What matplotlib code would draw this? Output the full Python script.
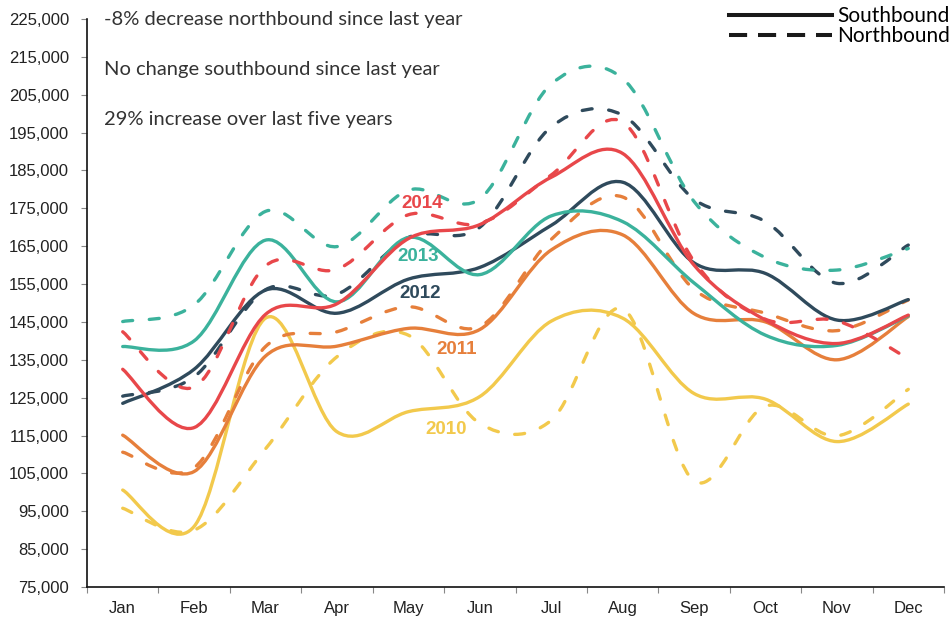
import matplotlib
matplotlib.use("Agg")
import matplotlib.pyplot as plt
from matplotlib.path import Path
from matplotlib.patches import PathPatch
from matplotlib.lines import Line2D
import numpy as np

months = ["Jan", "Feb", "Mar", "Apr", "May", "Jun", "Jul", "Aug", "Sep", "Oct", "Nov", "Dec"]
years = ["2010", "2011", "2012", "2013", "2014"]

south_2010 = [100600, 91000, 146000, 116000, 121300, 125300, 145200, 146000, 126100, 124600, 113400, 123300]
north_2010 = [95800, 90000, 111500, 135800, 141500, 118200, 119000, 148500, 103000, 122800, 114900, 127200]
south_2011 = [115100, 105500, 136000, 138600, 143300, 143000, 164000, 168000, 147200, 145000, 135000, 146400]
north_2011 = [110600, 106500, 138500, 142400, 149000, 143800, 166800, 178000, 153600, 147300, 142700, 150800]
south_2012 = [123500, 132500, 153400, 147300, 156300, 159400, 170500, 181900, 160600, 157800, 145500, 150900]
north_2012 = [125400, 130500, 153500, 152300, 167300, 170000, 196500, 199600, 177400, 171500, 155200, 165300]
south_2013 = [138500, 140000, 166600, 150300, 167300, 157500, 173000, 171500, 155300, 141500, 138800, 146600]
north_2013 = [145100, 149500, 174200, 164900, 179800, 177500, 207800, 209300, 176800, 162000, 158700, 164400]
south_2014 = [132500, 117100, 147000, 149800, 167000, 170700, 183200, 189500, 160000, 145500, 139300, 146800]
north_2014 = [142400, 127800, 159800, 158900, 173300, 171000, 183800, 197800, 161000, 145700, 145300, 135300]

notes = ["-8% decrease northbound since last year",
         "No change southbound since last year",
         "29% increase over last five years"]

colors = {"2010": "#F2C94C", "2011": "#E67F3B", "2012": "#2F4A5C",
          "2013": "#3BB29C", "2014": "#E8474A"}
label_pos = {"2014": (4.19, 176400), "2013": (4.14, 162400), "2012": (4.16, 152600),
             "2011": (4.68, 137800), "2010": (4.53, 116700)}

series = [("2010", south_2010, north_2010), ("2011", south_2011, north_2011),
          ("2012", south_2012, north_2012), ("2013", south_2013, north_2013),
          ("2014", south_2014, north_2014)]


def smooth_path(xs, ys):
    pts = np.column_stack([xs, ys]).astype(float)
    n = len(pts)
    verts = [pts[0]]
    codes = [Path.MOVETO]
    for i in range(n - 1):
        p0 = pts[max(i - 1, 0)]
        p1 = pts[i]
        p2 = pts[i + 1]
        p3 = pts[min(i + 2, n - 1)]
        c1 = p1 + (p2 - p0) / 6.0
        c2 = p2 - (p3 - p1) / 6.0
        verts += [c1, c2, p2]
        codes += [Path.CURVE4] * 3
    return Path(verts, codes)


fig = plt.figure(figsize=(9.51, 6.19), dpi=100)
W, H = 951, 619
ax = fig.add_axes([87 / W, (H - 587) / H, (944 - 87) / W, (587 - 19) / H])

x = np.arange(len(months))
lw = 2.4
for yr, s, nb in series:
    c = colors[yr]
    ax.add_patch(PathPatch(smooth_path(x, nb), fill=False, edgecolor=c, lw=lw,
                           linestyle=(0, (3.0, 5.0)), capstyle="round"))
    ax.add_patch(PathPatch(smooth_path(x, s), fill=False, edgecolor=c, lw=lw,
                           capstyle="round"))
    lx, ly = label_pos[yr]
    ax.text(lx, ly, yr, color=c, fontsize=13.5, fontweight="bold",
            family="Liberation Sans", ha="center", va="center")

ax.set_xlim(-0.5, len(months) - 0.5)
ax.set_ylim(75000, 225000)
ax.set_yticks(np.arange(75000, 225001, 10000))
ax.set_yticklabels([f"{v:,}" for v in range(75000, 225001, 10000)])
ax.set_xticks(np.arange(-0.5, len(months), 1.0))
ax.set_xticklabels([])
ax.set_xticks(x, minor=True)
ax.set_xticklabels(months, minor=True)
ax.tick_params(axis="x", which="major", length=4, width=0.8, color="#888888")
ax.tick_params(axis="x", which="minor", length=0, pad=10)
ax.tick_params(axis="y", length=4, width=0.8, color="#888888", pad=9)
for lab in ax.get_yticklabels() + ax.get_xticklabels(minor=True):
    lab.set_family("Liberation Sans")
    lab.set_fontsize(12)
    lab.set_color("#222222")
for side in ["top", "right"]:
    ax.spines[side].set_visible(False)
for side in ["left", "bottom"]:
    ax.spines[side].set_color("#111111")
    ax.spines[side].set_linewidth(1.2)

for i, t in enumerate(notes):
    fig.text(104 / W, 1 - (20 + 50 * i) / H, t, family="Lato", fontsize=14.5,
             color="#333333", ha="left", va="center")

handles = [Line2D([], [], color="#1a1a1a", lw=2.9),
           Line2D([], [], color="#1a1a1a", lw=2.9, linestyle=(0, (4.5, 2.7)))]
fig.legend(handles, ["Southbound", "Northbound"], loc="upper right",
           bbox_to_anchor=(950 / W, 1 - 6 / H), frameon=False,
           prop={"family": "Lato", "size": 15}, handlelength=4.95,
           handletextpad=0.25, labelspacing=0.0, borderpad=0, borderaxespad=0)

fig.savefig("out.png", dpi=100)
